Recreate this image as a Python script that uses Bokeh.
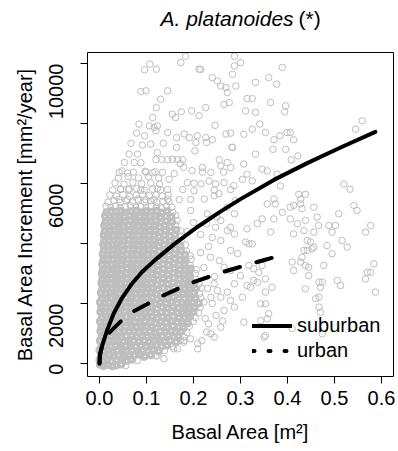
import math
from bokeh.plotting import figure
from bokeh.layouts import column
from bokeh.models import (Range1d, FixedTicker, PrintfTickFormatter, Label,
                          Legend, LegendItem, ColumnDataSource)
from bokeh.embed import file_html
from bokeh.resources import INLINE

# ---------------- data ----------------
x_ticks = [0.0, 0.1, 0.2, 0.3, 0.4, 0.5, 0.6]
y_ticks = [0, 2000, 4000, 6000, 8000, 10000]
y_tick_labels = {0: "0", 2000: "2000", 4000: "", 6000: "6000", 8000: "", 10000: "10000"}

# fitted curves
sub_x = [0.000, 0.001, 0.005, 0.016, 0.030, 0.047, 0.069, 0.090, 0.116, 0.159,
         0.209, 0.258, 0.300, 0.371, 0.442, 0.513, 0.587]
sub_y = [0, 330, 560, 1100, 1660, 2160, 2660, 3040, 3420, 3980,
         4560, 5070, 5480, 6120, 6680, 7200, 7720]
urb_x = [0.000, 0.001, 0.005, 0.019, 0.047, 0.069, 0.104, 0.129, 0.168, 0.194,
         0.237, 0.265, 0.297, 0.353, 0.399]
urb_y = [0, 270, 540, 1000, 1430, 1710, 2000, 2220, 2500, 2680,
         2910, 3060, 3210, 3460, 3660]

# scattered observations (outer cloud)
sparse_pts = [
    (0.183,10240),(0.287,10240),(0.107,9980),(0.096,9790),(0.121,9810),(0.173,10030),
    (0.212,9810),(0.215,9800),(0.287,9920),(0.240,9530),(0.251,9420),(0.258,9250),
    (0.269,9200),(0.283,9640),(0.290,9250),(0.272,9030),(0.088,9060),(0.099,9090),
    (0.145,9090),(0.130,8810),(0.265,8640),(0.276,8700),(0.121,8530),(0.155,8310),
    (0.162,8200),(0.174,8390),(0.196,8420),(0.212,8260),(0.226,8530),(0.113,8200),
    (0.084,7980),(0.106,7920),(0.116,7870),(0.123,7920),(0.246,7940),(0.079,7680),
    (0.096,7590),(0.120,7760),(0.145,7700),(0.180,7650),(0.191,7530),(0.208,7590),
    (0.226,7530),(0.240,7460),(0.269,7650),(0.279,7680),(0.164,7530),(0.067,7340),
    (0.091,7280),(0.109,7310),(0.136,7340),(0.164,7200),(0.205,7370),(0.203,7090),
    (0.228,7370),(0.283,7200),(0.063,6980),(0.081,6980),(0.123,7030),(0.120,6800),
    (0.132,6800),(0.145,6790),(0.155,6810),(0.166,6800),(0.177,6790),(0.255,6790),
    (0.272,6700),(0.053,6700),(0.074,6700),(0.088,6690),(0.219,6530),(0.237,6370),
    (0.258,6590),(0.279,6530),(0.042,6370),(0.060,6350),(0.099,6380),(0.113,6360),
    (0.134,6370),(0.148,6140),(0.159,6330),(0.187,6030),(0.201,6010),(0.216,5990),
    (0.233,6080),(0.247,5990),(0.265,6030),(0.045,5800),(0.063,5820),(0.088,5780),
    (0.123,5830),(0.145,5800),(0.177,5800),(0.201,5760),(0.244,5780),(0.279,5800),
    (0.042,5470),(0.060,5470),(0.081,5480),(0.099,5460),(0.116,5470),(0.145,5480),
    (0.170,5460),(0.194,5470),(0.223,5480),(0.244,5590),
    (0.389,9870),(0.332,9370),(0.360,9530),(0.377,9310),(0.314,8830),(0.325,8830),
    (0.332,8370),(0.311,8420),(0.364,8700),(0.396,8590),(0.394,8390),(0.341,7980),
    (0.325,7810),(0.307,7640),(0.353,7700),(0.371,7460),(0.384,7590),(0.399,7700),
    (0.406,7700),(0.413,7460),(0.332,6980),(0.369,7140),(0.396,7140),(0.408,6790),
    (0.422,6920),(0.307,6650),(0.346,6480),(0.357,6420),(0.314,6310),(0.304,6140),
    (0.325,6090),(0.378,6310),(0.385,5920),(0.545,7810),(0.559,8090),(0.520,5980),
    (0.533,5810),(0.371,5480),(0.424,5640),(0.438,5640),(0.428,5480),(0.300,10030),
    (0.282,7210),(0.264,6380),(0.219,6380),(0.197,6430),(0.179,6540),(0.172,6660),
    (0.286,5930),(0.254,5660),(0.289,5430),(0.229,4990),(0.194,5100),(0.250,4880),
    (0.247,4540),(0.236,3540),
    (0.357,5320),(0.374,5320),(0.406,5210),(0.413,5270),(0.428,5320),(0.431,5160),
    (0.456,5210),(0.509,4990),(0.541,5270),(0.548,5100),(0.346,4820),(0.371,4820),
    (0.389,5040),(0.406,4820),(0.421,4660),(0.438,4770),(0.463,4880),(0.466,4600),
    (0.488,4600),(0.502,4600),(0.495,4380),(0.566,4380),(0.577,4600),(0.336,4660),
    (0.314,4490),(0.364,4380),(0.413,4320),(0.435,4430),(0.456,4380),(0.318,3990),
    (0.311,4050),(0.325,3990),(0.442,4100),(0.449,4050),(0.442,3770),(0.452,3820),
    (0.456,3880),(0.435,3770),(0.484,3930),(0.516,4100),(0.527,3880),(0.495,3660),
    (0.431,3540),(0.428,3380),(0.410,3380),(0.413,3100),(0.438,3270),(0.445,3210),
    (0.445,2930),(0.477,3270),(0.584,3320),(0.570,3040),(0.577,3040),(0.566,2820),
    (0.587,2380),(0.506,2770),(0.513,2600),(0.467,2710),(0.474,2710),(0.470,2540),
    (0.467,2210),(0.460,2160),(0.438,2490),(0.467,1880),(0.470,1710),(0.318,3270),
    (0.328,3160),(0.339,3040),(0.346,3270),(0.353,2820),(0.328,2770),(0.321,2540),
    (0.314,2600),(0.336,2710),(0.367,2540),(0.353,2380),(0.343,1990),(0.353,1990),
    (0.360,1660),(0.357,1490),(0.343,1430),(0.307,1380),(0.304,2210),(0.300,2930),
    (0.410,1160),(0.350,880),(0.353,930),(0.474,990),
    (0.255,3430),(0.265,3210),(0.279,3100),(0.287,2660),(0.272,2380),(0.258,2210),
    (0.279,2100),(0.287,1880),(0.265,1770),(0.244,2660),(0.251,2430),(0.237,2210),
    (0.294,3660),(0.279,3770),(0.287,4320),(0.272,4430),(0.258,4100),(0.258,4770),
    (0.279,4540),(0.287,4990),(0.272,5210),(0.209,490),(0.209,660),(0.244,880),
    (0.237,990),(0.258,1210),(0.180,770),(0.166,490),(0.066,210),(0.094,210),
    (0.123,270),(0.137,160),(0.158,490),(0.179,710),(0.194,820),
    (0.225,1500),(0.232,1320),(0.248,1600),(0.262,1420),(0.228,1050),(0.218,760),
    (0.240,2000),(0.230,2500),(0.245,2900),(0.222,3200),(0.232,3900),(0.215,4300),
    (0.240,4200),(0.228,4650),(0.200,4700),(0.187,4400),(0.215,3700),
]

# upper fringe of the core cloud
fringe_pts = [
    (0.018,5380),(0.031,5430),(0.044,5370),(0.057,5420),(0.070,5390),(0.083,5440),
    (0.096,5380),(0.109,5420),(0.122,5370),(0.135,5410),(0.148,5390),
    (0.022,5620),(0.036,5580),(0.050,5630),(0.064,5570),(0.078,5610),(0.092,5640),
    (0.106,5590),(0.120,5620),(0.134,5580),(0.146,5610),
    (0.028,5780),(0.045,5820),(0.062,5790),(0.079,5830),(0.096,5770),(0.113,5810),
    (0.130,5790),
    (0.033,6020),(0.052,5980),(0.071,6030),(0.090,5990),(0.109,6020),(0.128,5980),
    (0.040,6180),(0.061,6230),(0.083,6190),(0.104,6220),(0.126,6180),
    (0.048,6420),(0.072,6380),(0.097,6410),(0.118,6390),
]

# dense core of the cloud (small trees), listed row by row from left to right
dense_pts = [
    (0.001,-40),(0.009,-80),(0.018,-50),(0.027,-90),(0.036,-60),(0.046,-30),(0.056,-70),
    (0.000,120),(0.008,90),(0.017,140),(0.026,80),(0.036,110),(0.047,150),(0.058,90),
    (0.069,130),(0.081,100),
    (0.003,280),(0.012,240),(0.022,300),(0.031,250),(0.041,270),(0.052,230),(0.063,290),
    (0.074,260),(0.086,300),(0.097,240),(0.109,280),(0.120,250),
    (0.000,440),(0.009,400),(0.019,450),(0.028,390),(0.038,430),(0.049,460),(0.059,410),
    (0.070,440),(0.081,390),(0.092,450),(0.103,420),(0.114,460),(0.126,400),(0.138,430),
    (0.004,560),(0.014,600),(0.024,570),(0.034,610),(0.045,550),(0.055,590),(0.066,620),
    (0.077,570),(0.088,600),(0.099,550),(0.110,590),(0.121,620),(0.132,570),(0.144,600),
    (0.155,560),
    (0.001,760),(0.011,720),(0.021,770),(0.030,730),(0.040,780),(0.051,740),(0.062,710),
    (0.073,760),(0.084,730),(0.095,770),(0.106,720),(0.117,750),(0.128,780),(0.139,730),
    (0.151,760),(0.163,720),(0.172,770),
    (0.005,880),(0.015,920),(0.025,890),(0.035,930),(0.046,870),(0.057,910),(0.068,940),
    (0.079,880),(0.090,920),(0.101,890),(0.112,930),(0.123,870),(0.134,910),(0.146,940),
    (0.157,880),(0.168,920),(0.180,890),
    (0.002,1080),(0.012,1040),(0.022,1090),(0.031,1030),(0.041,1070),(0.052,1100),
    (0.063,1050),(0.074,1080),(0.085,1030),(0.096,1090),(0.107,1060),(0.118,1020),
    (0.129,1080),(0.140,1050),(0.152,1100),(0.163,1040),(0.174,1070),(0.186,1030),
    (0.004,1200),(0.014,1240),(0.024,1210),(0.034,1250),(0.045,1190),(0.056,1230),
    (0.067,1260),(0.078,1200),(0.089,1240),(0.100,1210),(0.111,1250),(0.122,1190),
    (0.133,1230),(0.145,1200),(0.156,1250),(0.168,1220),(0.179,1190),(0.191,1240),
    (0.001,1400),(0.011,1360),(0.021,1410),(0.031,1350),(0.042,1390),(0.053,1420),
    (0.064,1370),(0.075,1400),(0.086,1350),(0.097,1410),(0.108,1380),(0.119,1340),
    (0.130,1400),(0.142,1370),(0.153,1420),(0.165,1360),(0.176,1390),(0.188,1350),
    (0.199,1400),
    (0.005,1520),(0.015,1560),(0.025,1530),(0.035,1570),(0.046,1510),(0.057,1550),
    (0.068,1580),(0.079,1520),(0.090,1560),(0.101,1530),(0.112,1570),(0.123,1510),
    (0.134,1550),(0.146,1520),(0.157,1570),(0.169,1540),(0.180,1510),(0.192,1560),
    (0.204,1530),
    (0.002,1720),(0.012,1680),(0.022,1730),(0.032,1670),(0.043,1710),(0.054,1740),
    (0.065,1690),(0.076,1720),(0.087,1670),(0.098,1730),(0.109,1700),(0.120,1660),
    (0.131,1720),(0.143,1690),(0.154,1740),(0.166,1680),(0.177,1710),(0.189,1670),
    (0.200,1720),(0.211,1690),
    (0.004,1840),(0.014,1880),(0.024,1850),(0.034,1890),(0.045,1830),(0.056,1870),
    (0.067,1900),(0.078,1840),(0.089,1880),(0.100,1850),(0.111,1890),(0.122,1830),
    (0.133,1870),(0.145,1840),(0.156,1890),(0.168,1860),(0.179,1830),(0.191,1880),
    (0.202,1850),(0.214,1870),
    (0.001,2040),(0.011,2000),(0.021,2050),(0.031,1990),(0.042,2030),(0.053,2060),
    (0.064,2010),(0.075,2040),(0.086,1990),(0.097,2050),(0.108,2020),(0.119,1980),
    (0.130,2040),(0.142,2010),(0.153,2060),(0.165,2000),(0.176,2030),(0.188,1990),
    (0.199,2040),(0.211,2010),(0.222,2050),
    (0.005,2160),(0.015,2200),(0.025,2170),(0.035,2210),(0.046,2150),(0.057,2190),
    (0.068,2220),(0.079,2160),(0.090,2200),(0.101,2170),(0.112,2210),(0.123,2150),
    (0.134,2190),(0.146,2160),(0.157,2210),(0.169,2180),(0.180,2150),(0.192,2200),
    (0.204,2170),(0.216,2190),
    (0.003,2360),(0.013,2320),(0.023,2370),(0.033,2310),(0.044,2350),(0.055,2380),
    (0.066,2330),(0.077,2360),(0.088,2310),(0.099,2370),(0.110,2340),(0.121,2300),
    (0.132,2360),(0.144,2330),(0.155,2380),(0.167,2320),(0.178,2350),(0.190,2310),
    (0.201,2360),(0.213,2330),
    (0.006,2480),(0.016,2520),(0.026,2490),(0.036,2530),(0.047,2470),(0.058,2510),
    (0.069,2540),(0.080,2480),(0.091,2520),(0.102,2490),(0.113,2530),(0.124,2470),
    (0.135,2510),(0.147,2480),(0.158,2530),(0.170,2500),(0.181,2470),(0.193,2520),
    (0.205,2490),(0.217,2510),
    (0.004,2680),(0.014,2640),(0.024,2690),(0.034,2630),(0.045,2670),(0.056,2700),
    (0.067,2650),(0.078,2680),(0.089,2630),(0.100,2690),(0.111,2660),(0.122,2620),
    (0.133,2680),(0.145,2650),(0.156,2700),(0.168,2640),(0.179,2670),(0.191,2630),
    (0.202,2680),(0.212,2650),
    (0.006,2800),(0.016,2840),(0.026,2810),(0.036,2850),(0.047,2790),(0.058,2830),
    (0.069,2860),(0.080,2800),(0.091,2840),(0.102,2810),(0.113,2850),(0.124,2790),
    (0.135,2830),(0.147,2800),(0.158,2850),(0.170,2820),(0.181,2790),(0.193,2840),
    (0.205,2810),
    (0.005,3000),(0.015,2960),(0.025,3010),(0.035,2950),(0.046,2990),(0.057,3020),
    (0.068,2970),(0.079,3000),(0.090,2950),(0.101,3010),(0.112,2980),(0.123,2940),
    (0.134,3000),(0.146,2970),(0.157,3020),(0.169,2960),(0.180,2990),(0.192,2950),
    (0.204,3000),
    (0.007,3120),(0.017,3160),(0.027,3130),(0.037,3170),(0.048,3110),(0.059,3150),
    (0.070,3180),(0.081,3120),(0.092,3160),(0.103,3130),(0.114,3170),(0.125,3110),
    (0.136,3150),(0.148,3120),(0.159,3170),(0.171,3140),(0.182,3110),(0.194,3160),
    (0.206,3130),
    (0.006,3320),(0.016,3280),(0.026,3330),(0.036,3270),(0.047,3310),(0.058,3340),
    (0.069,3290),(0.080,3320),(0.091,3270),(0.102,3330),(0.113,3300),(0.124,3260),
    (0.135,3320),(0.147,3290),(0.158,3340),(0.170,3280),(0.181,3310),(0.193,3270),
    (0.008,3440),(0.018,3480),(0.028,3450),(0.038,3490),(0.049,3430),(0.060,3470),
    (0.071,3500),(0.082,3440),(0.093,3480),(0.104,3450),(0.115,3490),(0.126,3430),
    (0.137,3470),(0.149,3440),(0.160,3490),(0.172,3460),(0.183,3430),(0.195,3480),
    (0.007,3640),(0.017,3600),(0.027,3650),(0.037,3590),(0.048,3630),(0.059,3660),
    (0.070,3610),(0.081,3640),(0.092,3590),(0.103,3650),(0.114,3620),(0.125,3580),
    (0.136,3640),(0.148,3610),(0.159,3660),(0.171,3600),(0.182,3630),(0.193,3590),
    (0.009,3760),(0.019,3800),(0.029,3770),(0.039,3810),(0.050,3750),(0.061,3790),
    (0.072,3820),(0.083,3760),(0.094,3800),(0.105,3770),(0.116,3810),(0.127,3750),
    (0.138,3790),(0.150,3760),(0.161,3810),(0.173,3780),(0.185,3750),
    (0.008,3960),(0.018,3920),(0.028,3970),(0.038,3910),(0.049,3950),(0.060,3980),
    (0.071,3930),(0.082,3960),(0.093,3910),(0.104,3970),(0.115,3940),(0.126,3900),
    (0.137,3960),(0.149,3930),(0.160,3980),(0.172,3920),(0.183,3950),
    (0.010,4080),(0.020,4120),(0.030,4090),(0.040,4130),(0.051,4070),(0.062,4110),
    (0.073,4140),(0.084,4080),(0.095,4120),(0.106,4090),(0.117,4130),(0.128,4070),
    (0.139,4110),(0.151,4080),(0.162,4130),(0.174,4100),
    (0.009,4280),(0.019,4240),(0.029,4290),(0.039,4230),(0.050,4270),(0.061,4300),
    (0.072,4250),(0.083,4280),(0.094,4230),(0.105,4290),(0.116,4260),(0.127,4220),
    (0.138,4280),(0.150,4250),(0.161,4300),(0.173,4240),
    (0.011,4400),(0.021,4440),(0.031,4410),(0.041,4450),(0.052,4390),(0.063,4430),
    (0.074,4460),(0.085,4400),(0.096,4440),(0.107,4410),(0.118,4450),(0.129,4390),
    (0.140,4430),(0.152,4400),(0.163,4450),(0.172,4420),
    (0.010,4600),(0.020,4560),(0.030,4610),(0.040,4550),(0.051,4590),(0.062,4620),
    (0.073,4570),(0.084,4600),(0.095,4550),(0.106,4610),(0.117,4580),(0.128,4540),
    (0.139,4600),(0.151,4570),(0.162,4620),
    (0.013,4720),(0.023,4760),(0.033,4730),(0.043,4770),(0.054,4710),(0.065,4750),
    (0.076,4780),(0.087,4720),(0.098,4760),(0.109,4730),(0.120,4770),(0.131,4710),
    (0.142,4750),(0.154,4720),(0.165,4760),
    (0.012,4920),(0.022,4880),(0.032,4930),(0.042,4870),(0.053,4910),(0.064,4940),
    (0.075,4890),(0.086,4920),(0.097,4870),(0.108,4930),(0.119,4900),(0.130,4860),
    (0.141,4920),(0.153,4890),(0.162,4940),
    (0.015,5040),(0.025,5080),(0.035,5050),(0.045,5090),(0.056,5030),(0.067,5070),
    (0.078,5100),(0.089,5040),(0.100,5080),(0.111,5050),(0.122,5090),(0.133,5030),
    (0.144,5070),(0.156,5040),
    (0.014,5240),(0.024,5200),(0.034,5250),(0.044,5190),(0.055,5230),(0.066,5260),
    (0.077,5210),(0.088,5240),(0.099,5190),(0.110,5250),(0.121,5220),(0.132,5180),
    (0.143,5240),(0.154,5210),
]

legend_labels = ["suburban", "urban"]
title_species = "A. platanoides"
title_mark = "(*)"

# ---------------- style ----------------
FONT = "Liberation Sans"
TXT = "20px"
GREY = "#bebebe"
W = 398
TITLE_H = 50
FRAME_LEFT = 87   # the title strip's frame is aligned with the main frame

# ---------------- title strip ----------------
t = figure(width=W, height=TITLE_H, output_backend="svg", toolbar_location=None,
           x_axis_location=None, y_axis_location=None,
           x_range=Range1d(0, 1), y_range=Range1d(0, 1),
           min_border_left=0, min_border_right=0,
           min_border_top=0, min_border_bottom=0)
t.grid.visible = False
t.outline_line_color = None
t.background_fill_color = "white"
t.border_fill_color = "white"
t.add_layout(Label(x=160 - FRAME_LEFT, y=32, x_units="screen", y_units="screen",
                   text=title_species, text_font=FONT,
                   text_font_size="21px", text_font_style="italic",
                   text_baseline="middle", text_align="left", text_color="black"))
t.add_layout(Label(x=298 - FRAME_LEFT, y=32, x_units="screen", y_units="screen",
                   text=title_mark, text_font=FONT,
                   text_font_size="21px", text_baseline="middle",
                   text_align="left", text_color="black"))

# ---------------- main plot ----------------
p = figure(width=W, height=451 - TITLE_H, output_backend="svg", toolbar_location=None,
           x_range=Range1d(-0.02553, 0.62553), y_range=Range1d(-433, 10367),
           min_border_left=FRAME_LEFT, min_border_right=5, min_border_top=2,
           min_border_bottom=75)
p.grid.visible = False
p.background_fill_color = "white"
p.border_fill_color = "white"
p.outline_line_color = "black"
p.outline_line_width = 1

# interior of the heavily over-plotted core reads as solid grey (heavier ring);
# the last point of every row and the top row keep the normal thin ring
core, edge = [], []
for i, q in enumerate(dense_pts):
    row_end = i == len(dense_pts) - 1 or dense_pts[i + 1][0] < q[0]
    (edge if (row_end or q[1] > 5150) else core).append(q)
thin = sparse_pts + fringe_pts + edge
src_core = ColumnDataSource(dict(x=[q[0] for q in core], y=[q[1] for q in core]))
src_thin = ColumnDataSource(dict(x=[q[0] for q in thin], y=[q[1] for q in thin]))
p.scatter("x", "y", source=src_core, marker="circle", size=5, fill_color=None,
          line_color=GREY, line_width=3.2)
p.scatter("x", "y", source=src_thin, marker="circle", size=6.5, fill_color=None,
          line_color=GREY, line_width=1)

r_sub = p.line(sub_x, sub_y, line_color="black", line_width=4, line_cap="round",
               line_join="round")
r_urb = p.line(urb_x, urb_y, line_color="black", line_width=4, line_cap="round",
               line_join="round", line_dash="16 17")
# legend sample for urban (short dashes); its data lie outside the visible range
r_urb_leg = p.line([-1.0, -0.9], [-5000, -5000], line_color="black", line_width=4,
                   line_cap="round", line_dash="2 14")

for ax in (p.xaxis[0], p.yaxis[0]):
    ax.axis_line_color = None
    ax.major_tick_line_color = "black"
    ax.major_tick_out = 7
    ax.major_tick_in = 0
    ax.minor_tick_line_color = None
    ax.major_label_text_font = FONT
    ax.major_label_text_font_size = TXT
    ax.major_label_text_color = "black"
    ax.axis_label_text_font = FONT
    ax.axis_label_text_font_size = TXT
    ax.axis_label_text_font_style = "normal"
    ax.axis_label_text_color = "black"

p.xaxis.ticker = FixedTicker(ticks=x_ticks)
p.xaxis.formatter = PrintfTickFormatter(format="%.1f")
p.xaxis.axis_label = "Basal Area [m²]"
p.xaxis.major_label_standoff = 7
p.xaxis.axis_label_standoff = 13

p.yaxis.ticker = FixedTicker(ticks=y_ticks)
p.yaxis.major_label_overrides = y_tick_labels
p.yaxis.major_label_orientation = math.pi / 2
p.yaxis.axis_label = "Basal Area Increment [mm²/year]"
p.yaxis.major_label_standoff = 24
p.yaxis.axis_label_standoff = 4

legend = Legend(items=[LegendItem(label=legend_labels[0], renderers=[r_sub]),
                       LegendItem(label=legend_labels[1], renderers=[r_urb_leg])],
                location=(165, 13), padding=0, margin=0, spacing=0,
                glyph_width=40, glyph_height=25, label_height=25,
                label_standoff=5, label_text_font=FONT, label_text_font_size=TXT,
                label_text_color="black", border_line_color=None,
                background_fill_alpha=0)
p.add_layout(legend)

layout = column(t, p, spacing=0)
open("out.html", "w").write(file_html(layout, INLINE))
